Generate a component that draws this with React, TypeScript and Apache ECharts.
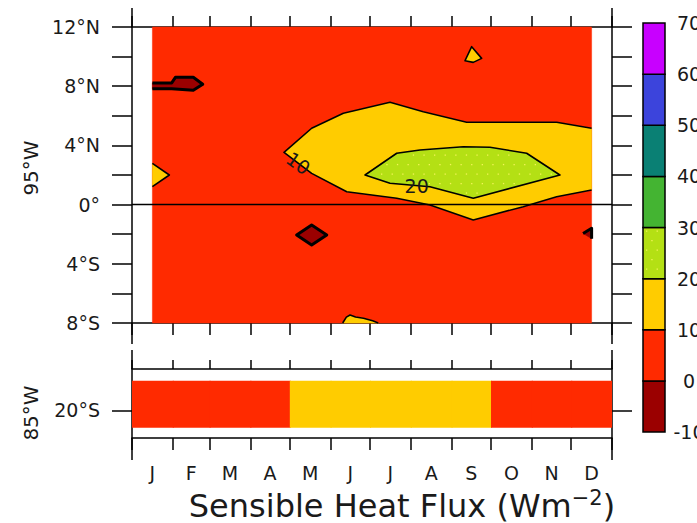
import { useEffect, useRef } from 'react';
import * as echarts from 'echarts';

const FONT = 'DejaVu Sans';

// ---- axes data ----
const monthLetters = ['J', 'F', 'M', 'A', 'M', 'J', 'J', 'A', 'S', 'O', 'N', 'D'];
const monthStarts = [0, 31, 59, 90, 120, 151, 181, 212, 243, 273, 304, 334, 365];
const monthMids = [15.5, 45, 74.5, 105, 135.5, 166, 196.5, 227.5, 258, 288.5, 319, 349.5];
const latRange95W = [-8, 12];
const latRange85W = [-22, -17];
const lat85WTicks = [-20];

// ---- colour scale ----
const levels = [-10, 0, 10, 20, 30, 40, 50, 60, 70];
const levelColors = ['#9b0000', '#ff2a00', '#ffcc00', '#b4e014', '#44b432', '#0a8074', '#3c44dc', '#c800ff'];

// ---- 95W contour field (day of year, latitude) ----
const backgroundValue95W = 5;
const yellowBand = [
  [349.5, 5.16], [322.9, 5.56], [254.5, 5.56], [221.5, 6.28], [196.2, 6.91], [160.7, 6.17],
  [136.6, 5.16], [115.6, 3.53], [136.6, 2.11], [163.3, 0.87], [201.3, 0.43], [226.6, -0.03],
  [259.5, -1.04], [297.5, -0.14], [322.9, 0.53], [349.5, 0.99],
];
const yellowBandValue = 15;
const limeCore = [
  [177.2, 2.0], [201.3, 3.47], [219, 3.69], [251.9, 3.91], [272.2, 3.87], [300.1, 3.47],
  [325.4, 2.0], [259.5, 0.43], [226.6, 1.21], [196.2, 1.44],
];
const limeCoreValue = 25;
const yellowLeftEdge = [[15.5, 2.79], [28.4, 2.0], [15.5, 1.21]];
const yellowTopSpot = [[258.3, 10.67], [265.9, 9.88], [259.5, 9.61], [253.2, 9.72]];
const yellowBottomEdge = [[160.2, -8], [163, -7.6], [165.8, -7.46], [170, -7.6], [176, -7.68], [183, -7.85], [187.3, -8]];
const smallSpotValue = 12;
const darkNorth = [[15.5, 8.22], [30.2, 8.22], [33, 8.6], [46.6, 8.6], [53.8, 8.13], [46.6, 7.72], [30.2, 7.82], [15.5, 7.82]];
const darkSouth = [[125.2, -2.05], [136.6, -1.38], [148.1, -2.05], [136.6, -2.73]];
const darkEdge = [[343, -1.95], [349.5, -1.6], [349.5, -2.3]];
const darkValue = -3;

const contourLabelValues = [10, 20];
const contourLabelPos = [[126.5, 2.8], [216.5, 1.26]];
const contourLabelAngleDeg = [-35, 0];

// ---- 85W, 20S strip ----
const band20S = [-21.25, -17.85];
const flux20S = [6, 5, 6, 8, 13, 15, 16, 15, 12, 8, 7, 6];

function colorFor(v: number) {
  for (let i = 0; i < levels.length - 1; i++) {
    if (v >= levels[i] && v < levels[i + 1]) return levelColors[i];
  }
  return levelColors[levelColors.length - 1];
}

const fieldRect = [
  [monthMids[0], latRange95W[1]], [monthMids[11], latRange95W[1]],
  [monthMids[11], latRange95W[0]], [monthMids[0], latRange95W[0]],
];

const regions = [
  { pts: fieldRect, value: backgroundValue95W, closed: true, line: false },
  { pts: yellowBand, value: yellowBandValue, closed: false, line: true },
  { pts: yellowLeftEdge, value: smallSpotValue, closed: false, line: true },
  { pts: yellowTopSpot, value: smallSpotValue, closed: true, line: true },
  { pts: yellowBottomEdge, value: smallSpotValue, closed: false, line: true },
  { pts: limeCore, value: limeCoreValue, closed: true, line: true },
  { pts: darkNorth, value: darkValue, closed: false, line: true },
  { pts: darkSouth, value: darkValue, closed: true, line: true },
  { pts: darkEdge, value: darkValue, closed: false, line: true },
];

const LINE = { color: '#000', width: 1.5 };
const GRID0 = { left: 132, top: 27, width: 480, height: 296 };
const GRID1 = { left: 132, top: 369, width: 480, height: 69 };
const TEXT_COLOR = '#1a1a1a';

function latLabel(v: number) {
  if (v % 4 !== 0) return '';
  if (v === 0) return '0°';
  return v > 0 ? `${v}°N` : `${-v}°S`;
}

function insidePoly(x: number, y: number, poly: number[][]) {
  let inside = false;
  for (let i = 0, j = poly.length - 1; i < poly.length; j = i++) {
    const xi = poly[i][0], yi = poly[i][1], xj = poly[j][0], yj = poly[j][1];
    if (yi > y !== yj > y && x < ((xj - xi) * (y - yi)) / (yj - yi) + xi) inside = !inside;
  }
  return inside;
}

// stipple dots (GrADS pattern look) inside a pixel polygon
function stipple(poly: number[][], color: string) {
  const xs = poly.map((p) => p[0]);
  const ys = poly.map((p) => p[1]);
  const minX = Math.min(...xs), maxX = Math.max(...xs), minY = Math.min(...ys), maxY = Math.max(...ys);
  const out: any[] = [];
  let row = 0;
  for (let y = Math.ceil(minY / 9.5) * 9.5 + 3; y < maxY - 2; y += 9.5, row++) {
    const off = row % 2 ? 5.3 : 0;
    for (let x = Math.ceil(minX / 10.6) * 10.6 + off; x < maxX - 2; x += 10.6) {
      if (insidePoly(x, y, poly) && insidePoly(x + 3, y, poly) && insidePoly(x - 3, y, poly) && insidePoly(x, y + 3, poly) && insidePoly(x, y - 3, poly)) {
        out.push({ type: 'rect', shape: { x: x - 0.6, y: y - 0.6, width: 1.3, height: 1.3 }, style: { fill: color } });
      }
    }
  }
  return out;
}

function xAxisDef(grid: number, position: string, tickLen: number, labels: boolean) {
  return {
    gridIndex: grid,
    type: 'value',
    min: 0,
    max: 365,
    position,
    axisLine: { show: true, onZero: false, lineStyle: LINE },
    axisTick: { show: true, length: tickLen, customValues: monthStarts, lineStyle: LINE },
    axisLabel: labels
      ? {
          show: true,
          customValues: monthMids,
          margin: 25,
          fontSize: 19,
          fontFamily: FONT,
          color: TEXT_COLOR,
          formatter: (v: number) => {
            let best = 0;
            monthMids.forEach((m, i) => {
              if (Math.abs(m - v) < Math.abs(monthMids[best] - v)) best = i;
            });
            return monthLetters[best];
          },
        }
      : { show: false },
    splitLine: { show: false },
  };
}

function buildOption() {
  const graphics: any[] = [];
  // axis frame extensions
  const ext = (x: number, y1: number, y2: number) =>
    graphics.push({ type: 'line', shape: { x1: x, y1, x2: x, y2 }, style: { stroke: '#000', lineWidth: 1.5 }, silent: true });
  [GRID0.left, GRID0.left + GRID0.width].forEach((x) => {
    ext(x, 8, GRID0.top);
    ext(x, GRID0.top + GRID0.height, 344);
    ext(x, 350, GRID1.top);
    ext(x, GRID1.top + GRID1.height, 460);
  });
  // colour bar
  const cbX = 643, cbTop = 23, cbW = 22, cbH = 409;
  const n = levelColors.length;
  const bh = cbH / n;
  levelColors.forEach((c, i) => {
    const y = cbTop + (n - 1 - i) * bh;
    graphics.push({
      type: 'rect',
      shape: { x: cbX, y, width: cbW, height: bh },
      style: { fill: c, stroke: '#000', lineWidth: 1.5 },
      silent: true,
    });
    if (levels[i] === 20) {
      stipple([[cbX, y], [cbX + cbW, y], [cbX + cbW, y + bh], [cbX, y + bh]], '#f4f45a').forEach((d) => graphics.push({ ...d, silent: true }));
    }
  });
  levels.forEach((lv, j) => {
    graphics.push({
      type: 'text',
      x: 689,
      y: cbTop + (n - j) * bh,
      style: { text: String(lv), fontSize: 19, fontFamily: FONT, fill: TEXT_COLOR, align: 'center', verticalAlign: 'middle' },
      silent: true,
    });
  });
  // axis names
  graphics.push({
    type: 'text', x: 31, y: 168, rotation: Math.PI / 2,
    style: { text: '95°W', fontSize: 20, fontFamily: FONT, fill: TEXT_COLOR, align: 'center', verticalAlign: 'middle' },
  });
  graphics.push({
    type: 'text', x: 31, y: 413, rotation: Math.PI / 2,
    style: { text: '85°W', fontSize: 20, fontFamily: FONT, fill: TEXT_COLOR, align: 'center', verticalAlign: 'middle' },
  });
  // title
  graphics.push({
    type: 'text', x: 402, y: 506,
    style: {
      text: '{a|Sensible Heat Flux (Wm}{s|−2}{a|)}',
      align: 'center',
      verticalAlign: 'middle',
      fill: TEXT_COLOR,
      rich: {
        a: { fontSize: 32, fontFamily: FONT, lineHeight: 38, fill: TEXT_COLOR },
        s: { fontSize: 21, fontFamily: FONT, lineHeight: 21, verticalAlign: 'top', fill: TEXT_COLOR },
      },
    },
  });

  return {
    animation: false,
    backgroundColor: '#fff',
    grid: [
      { ...GRID0, containLabel: false },
      { ...GRID1, containLabel: false },
    ],
    xAxis: [
      xAxisDef(0, 'bottom', 12, false),
      xAxisDef(0, 'top', 11, false),
      xAxisDef(1, 'top', 9, false),
      xAxisDef(1, 'bottom', 12, true),
    ],
    yAxis: [
      {
        gridIndex: 0, type: 'value', min: latRange95W[0], max: latRange95W[1], interval: 2, position: 'left',
        axisLine: { show: true, onZero: false, lineStyle: LINE },
        axisTick: { show: true, length: 20, lineStyle: LINE },
        axisLabel: { show: true, formatter: latLabel, margin: 32, fontSize: 19, fontFamily: FONT, color: TEXT_COLOR, showMinLabel: true, showMaxLabel: true },
        splitLine: { show: false },
      },
      {
        gridIndex: 0, type: 'value', min: latRange95W[0], max: latRange95W[1], interval: 2, position: 'right',
        axisLine: { show: true, onZero: false, lineStyle: LINE },
        axisTick: { show: true, length: 20, lineStyle: LINE },
        axisLabel: { show: false },
        splitLine: { show: false },
      },
      {
        gridIndex: 1, type: 'value', min: latRange85W[0], max: latRange85W[1], position: 'left',
        axisLine: { show: true, onZero: false, lineStyle: LINE },
        axisTick: { show: true, length: 20, customValues: lat85WTicks, lineStyle: LINE },
        axisLabel: { show: true, customValues: lat85WTicks, formatter: (v: number) => `${-v}°S`, margin: 32, fontSize: 19, fontFamily: FONT, color: TEXT_COLOR },
        splitLine: { show: false },
      },
      {
        gridIndex: 1, type: 'value', min: latRange85W[0], max: latRange85W[1], position: 'right',
        axisLine: { show: true, onZero: false, lineStyle: LINE },
        axisTick: { show: true, length: 20, customValues: lat85WTicks, lineStyle: LINE },
        axisLabel: { show: false },
        splitLine: { show: false },
      },
    ],
    series: [
      {
        type: 'custom',
        xAxisIndex: 0,
        yAxisIndex: 0,
        z: 2,
        silent: true,
        data: regions.map((r, i) => [r.pts[0][0], r.pts[0][1], i]),
        renderItem: (params: any, api: any) => {
          const r = regions[api.value(2)];
          const pts = r.pts.map((p) => api.coord(p));
          const children: any[] = [
            { type: 'polygon', shape: { points: pts }, style: { fill: colorFor(r.value), stroke: colorFor(r.value), lineWidth: 0.5 } },
          ];
          if (r.value >= 20 && r.value < 30) children.push(...stipple(pts, '#f4f45a'));
          if (r.line) {
            children.push({
              type: r.closed ? 'polygon' : 'polyline',
              shape: { points: pts },
              style: { fill: 'none', stroke: '#000', lineWidth: r.value < 0 ? 3 : 1.6, lineJoin: 'round' },
            });
          }
          return { type: 'group', children };
        },
      },
      {
        type: 'line',
        xAxisIndex: 0,
        yAxisIndex: 0,
        z: 3,
        silent: true,
        showSymbol: false,
        symbol: 'none',
        data: [[0, 0], [365, 0]],
        lineStyle: { color: '#000', width: 1.5 },
      },
      {
        type: 'custom',
        xAxisIndex: 0,
        yAxisIndex: 0,
        z: 4,
        silent: true,
        data: contourLabelPos.map((p, i) => [p[0], p[1], i]),
        renderItem: (params: any, api: any) => {
          const i = api.value(2);
          const c = api.coord([api.value(0), api.value(1)]);
          return {
            type: 'text',
            x: c[0],
            y: c[1],
            rotation: (contourLabelAngleDeg[i] * Math.PI) / 180,
            style: {
              text: String(contourLabelValues[i]),
              fontSize: 19,
              fontFamily: FONT,
              fill: TEXT_COLOR,
              align: 'center',
              verticalAlign: 'middle',
            },
          };
        },
      },
      {
        type: 'custom',
        xAxisIndex: 3,
        yAxisIndex: 2,
        z: 2,
        silent: true,
        data: flux20S.map((v, i) => [monthStarts[i], monthStarts[i + 1], v]),
        renderItem: (params: any, api: any) => {
          const p1 = api.coord([api.value(0), band20S[1]]);
          const p2 = api.coord([api.value(1), band20S[0]]);
          const col = colorFor(api.value(2));
          const last = params.dataIndex === flux20S.length - 1;
          return {
            type: 'rect',
            shape: { x: p1[0], y: p1[1], width: p2[0] - p1[0] + (last ? 0 : 1), height: p2[1] - p1[1] },
            style: { fill: col },
          };
        },
      },
    ],
    graphic: graphics,
  };
}

export default function App() {
  const ref = useRef<HTMLDivElement>(null);
  useEffect(() => {
    document.body.style.margin = '0';
    const chart = echarts.init(ref.current as HTMLDivElement, null, { renderer: 'svg', width: 697, height: 523 });
    chart.setOption(buildOption() as any);
    return () => chart.dispose();
  }, []);
  return <div ref={ref} style={{ position: 'absolute', left: 0, top: 0, width: 697, height: 523, background: '#fff' }} />;
}
